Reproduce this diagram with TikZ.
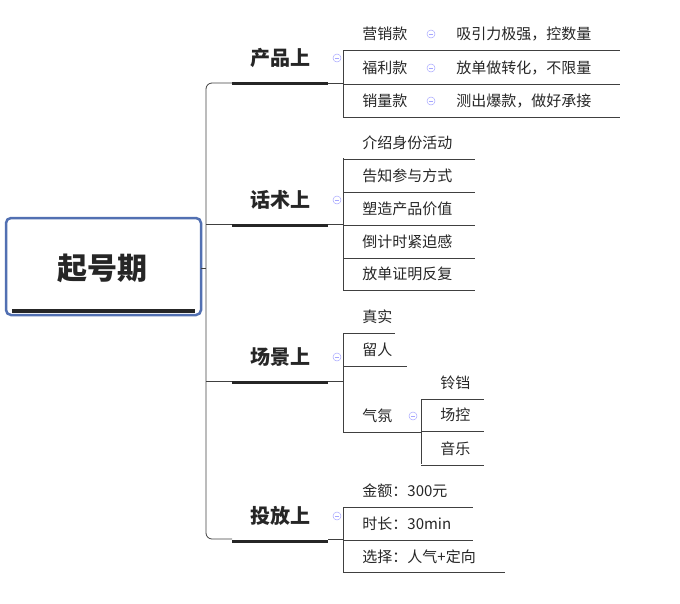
\documentclass[tikz,border=0pt]{standalone}
\usepackage{fontspec}
\setmainfont{Noto Sans CJK SC}
\definecolor{rootblue}{RGB}{82,112,178}
\tikzset{every picture/.style={line width=0.9pt}}
\tikzset{
  leaf/.style={anchor=west,inner sep=0pt,font=\fontsize{15}{15}\selectfont,text=black!85},
  cat/.style={inner sep=0pt,font=\fontsize{20}{20}\selectfont\bfseries,text=black!85},
  uline/.style={draw=black!75,line width=0.8pt},
  bar/.style={draw=black!85,line width=3pt},
  fold/.style={circle,draw=blue!35,inner sep=0pt,minimum size=8pt,line width=0.5pt,
    path picture={\draw[blue!35,line width=0.5pt] ([xshift=-2.2pt]path picture bounding box.center)--([xshift=2.2pt]path picture bounding box.center);}}
}
\begin{document}
\begin{tikzpicture}[x=1pt,y=1pt,yscale=-1]
\useasboundingbox (0,0) rectangle (680,603);

%root
\draw[draw=rootblue,line width=2.5pt,rounded corners=5pt,fill=white] (6,218) rectangle (201,315);
\draw[bar,line width=4pt] (12,311) -- (195,311);
\node[inner sep=0pt,font=\fontsize{30}{30}\selectfont\bfseries,text=black!85] (root) at (102,268) {起号期};

%branches
\draw[uline] (201,268) -- (206,268);
\draw[uline,rounded corners=6pt] (232,83) -- (206,83) -- (206,539) -- (232,539);
\draw[uline] (206,224) -- (232,224);
\draw[uline] (206,381) -- (232,381);

%categories
\foreach \n/\t/\y in {cpin/产品上/58, hshu/话术上/200, cjing/场景上/357, tfang/投放上/516}{
  \node[cat] (\n) at (280,\y) {\t};
  \draw[bar] (232,\y+25) -- (328,\y+25);
  \node[fold] at (337,\y) {};
}
\draw[uline] (328,83) -- (343,83);
\draw[uline] (328,224) -- (343,224);
\draw[uline] (328,381) -- (343,381);
\draw[uline] (328,539) -- (343,539);

%产品上
\draw[uline] (343,50) -- (343,117);
\foreach \a/\b/\y in {营销款/吸引力极强，控数量/34, 福利款/放单做转化，不限量/68, 销量款/测出爆款，做好承接/101}{
  \node[leaf] at (362,\y) {\a};
  \node[fold] at (431,\y) {};
  \node[leaf] at (456,\y) {\b};
  \draw[uline] (343,\y+16) -- (620,\y+16);
}

%话术上
\draw[uline] (343,158) -- (343,290);
\foreach \t/\y in {介绍身份活动/143, 告知参与方式/176, 塑造产品价值/209, 倒计时紧迫感/242, 放单证明反复/274}{
  \node[leaf] at (362,\y) {\t};
  \draw[uline] (343,\y+16) -- (475,\y+16);
}

%场景上
\draw[uline] (343,333) -- (343,432);
\node[leaf] (zs) at (362,317) {真实};
\draw[uline] (343,333) -- (395,333);
\node[leaf] (lr) at (362,350) {留人};
\draw[uline] (343,366) -- (407,366);
\node[leaf] (qf) at (362,416) {气氛};
\node[fold] at (413,416) {};
\draw[uline] (343,432) -- (421,432);
\draw[uline] (421,399) -- (421,464);
\foreach \t/\y in {铃铛/383, 场控/415, 音乐/449}{
  \node[leaf] at (440,\y) {\t};
  \draw[uline] (421,\y+16) -- (484,\y+16);
}

%投放上
\draw[uline] (343,507) -- (343,572);
\node[leaf] at (362,491) {金额：300元};
\draw[uline] (343,507) -- (473,507);
\node[leaf] at (362,524) {时长：30min};
\draw[uline] (343,540) -- (473,540);
\node[leaf] at (362,557) {选择：人气+定向};
\draw[uline] (343,572) -- (505,572);
\end{tikzpicture}
\end{document}
